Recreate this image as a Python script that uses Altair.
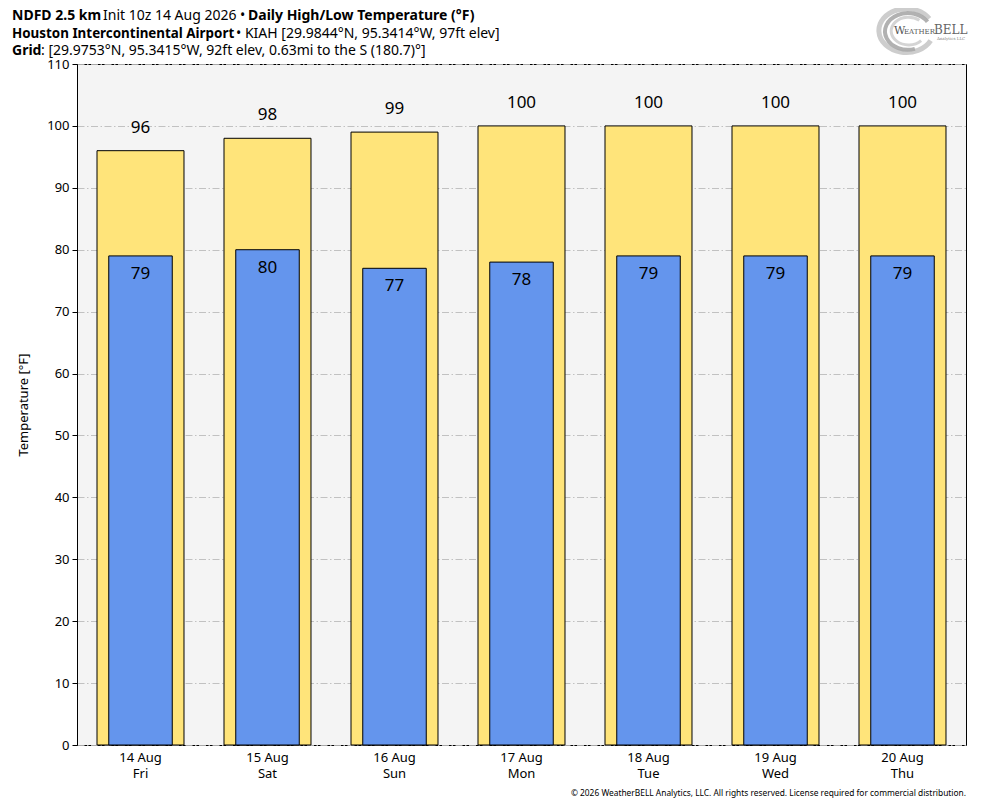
import altair as alt
import pandas as pd

dates = ["14 Aug", "15 Aug", "16 Aug", "17 Aug", "18 Aug", "19 Aug", "20 Aug"]
weekdays = ["Fri", "Sat", "Sun", "Mon", "Tue", "Wed", "Thu"]
highs = [96, 98, 99, 100, 100, 100, 100]
lows = [79, 80, 77, 78, 79, 79, 79]
y_ticks = [0, 10, 20, 30, 40, 50, 60, 70, 80, 90, 100, 110]

FONT = "Noto Sans"
W, H = 889, 681

df = pd.DataFrame({
    "day": [f"{d}|{w}" for d, w in zip(dates, weekdays)],
    "high": highs,
    "low": lows,
})

xenc = alt.X("day:N", sort=None, title=None,
             scale=alt.Scale(paddingInner=0, paddingOuter=0),
             axis=alt.Axis(labelExpr="split(datum.value, '|')", labelAngle=0,
                           ticks=False, domain=False, labelFont=FONT, labelFontSize=13,
                           labelColor="black", labelPadding=6, labelLineHeight=16,
                           labelBaseline="top"))
yscale = alt.Scale(domain=[0, 110], nice=False)

base = alt.Chart(df)

high_bar = base.mark_bar(color="#FFE47A", stroke="black", strokeWidth=1,
                         width=alt.RelativeBandSize(0.685)).encode(
    x=xenc,
    y=alt.Y("high:Q", scale=yscale, title="Temperature [°F]",
            axis=alt.Axis(values=y_ticks, grid=True, gridColor="#bbbbbb", gridWidth=0.9,
                          gridDash=[7, 2.5, 1.5, 2.5], tickColor="black", tickSize=5,
                          domainColor="black", labelFont=FONT, labelFontSize=13,
                          labelColor="black", titleFont=FONT, titleFontSize=13,
                          titleFontWeight="normal", titleColor="black", titlePadding=16,
                          labelPadding=3)),
)
low_bar = base.mark_bar(color="#6495ED", stroke="black", strokeWidth=1,
                        width=alt.RelativeBandSize(0.5)).encode(
    x=alt.X("day:N", sort=None), y=alt.Y("low:Q", scale=yscale))

high_txt = base.mark_text(font=FONT, fontSize=17, dy=-23, baseline="middle", color="black").encode(
    x=alt.X("day:N", sort=None), y=alt.Y("high:Q", scale=yscale), text="high:Q")
low_txt = base.mark_text(font=FONT, fontSize=17, dy=18, baseline="middle", color="black").encode(
    x=alt.X("day:N", sort=None), y=alt.Y("low:Q", scale=yscale), text="low:Q")

one = pd.DataFrame({"a": [0]})

def label(text, x, y, size=14, bold=False, align="left", color="black", font=FONT):
    return alt.Chart(one).mark_text(
        text=text, font=font, fontSize=size, fontWeight="bold" if bold else "normal",
        align=align, baseline="alphabetic", color=color,
    ).encode(x=alt.value(x), y=alt.value(y))

ox, oy = 77, 64  # plot origin in page coords
titles = [
    label("NDFD 2.5 km", 12 - ox, 20 - oy, bold=True),
    label("Init 10z 14 Aug 2026 •", 103 - ox, 20 - oy),
    label("Daily High/Low Temperature (°F)", 248 - ox, 20 - oy, bold=True),
    label("Houston Intercontinental Airport", 12 - ox, 38 - oy, bold=True, size=13.4),
    label("• KIAH [29.9844°N, 95.3414°W, 97ft elev]", 236 - ox, 38 - oy),
    label("Grid", 12 - ox, 55 - oy, bold=True),
    label(": [29.9753°N, 95.3415°W, 92ft elev, 0.63mi to the S (180.7)°]", 41 - ox, 55 - oy),
    label("© 2026 WeatherBELL Analytics, LLC. All rights reserved. License required for commercial distribution.",
          966 - ox, 796 - oy, size=8.4, align="right"),
]

# logo approximation: grey elliptical swirl + wordmark
def swirl(scale, color, sw, path, cx=906, cy=31):
    return alt.Chart(one).mark_point(shape=path, filled=False, stroke=color, strokeWidth=sw,
                                     opacity=0.9).encode(
        x=alt.value(cx - ox), y=alt.value(cy - oy), size=alt.value(scale))

swirls = [
    swirl(3000, "#c8c8c8", 5, "M0.85,-0.45 A1,0.8 0 1,0 0.9,0.35"),
    swirl(2100, "#a9a9a9", 4, "M0.3,0.78 A1,0.8 0 1,1 0.85,-0.4", cx=908),
    swirl(1200, "#d0d0d0", 3, "M0.6,-0.62 A1,0.8 0 1,0 0.7,0.55", cx=909),
]
logo = [
    label("W", 894 - ox, 34 - oy, size=11, color="#555555", font="DejaVu Serif"),
    label("EATHER", 904 - ox, 34 - oy, size=7, color="#555555", font="DejaVu Serif"),
    label("BELL", 934 - ox, 34 - oy, size=12, color="#666666", font="DejaVu Serif"),
    label("Analytics LLC", 951 - ox, 40 - oy, size=4, align="center", color="#888888",
          font="DejaVu Serif"),
]

chart = alt.layer(high_bar, low_bar, high_txt, low_txt, *swirls, *logo, *titles).properties(
    width=W, height=H,
    autosize=alt.AutoSizeParams(type="none"),
    padding={"left": ox - 8, "top": oy - 8, "right": 10, "bottom": 55},
    background="white",
).configure_view(fill="#F4F4F4", stroke="black", strokeWidth=1)

chart.save("out.html", embed_options={"renderer": "svg", "actions": False})
